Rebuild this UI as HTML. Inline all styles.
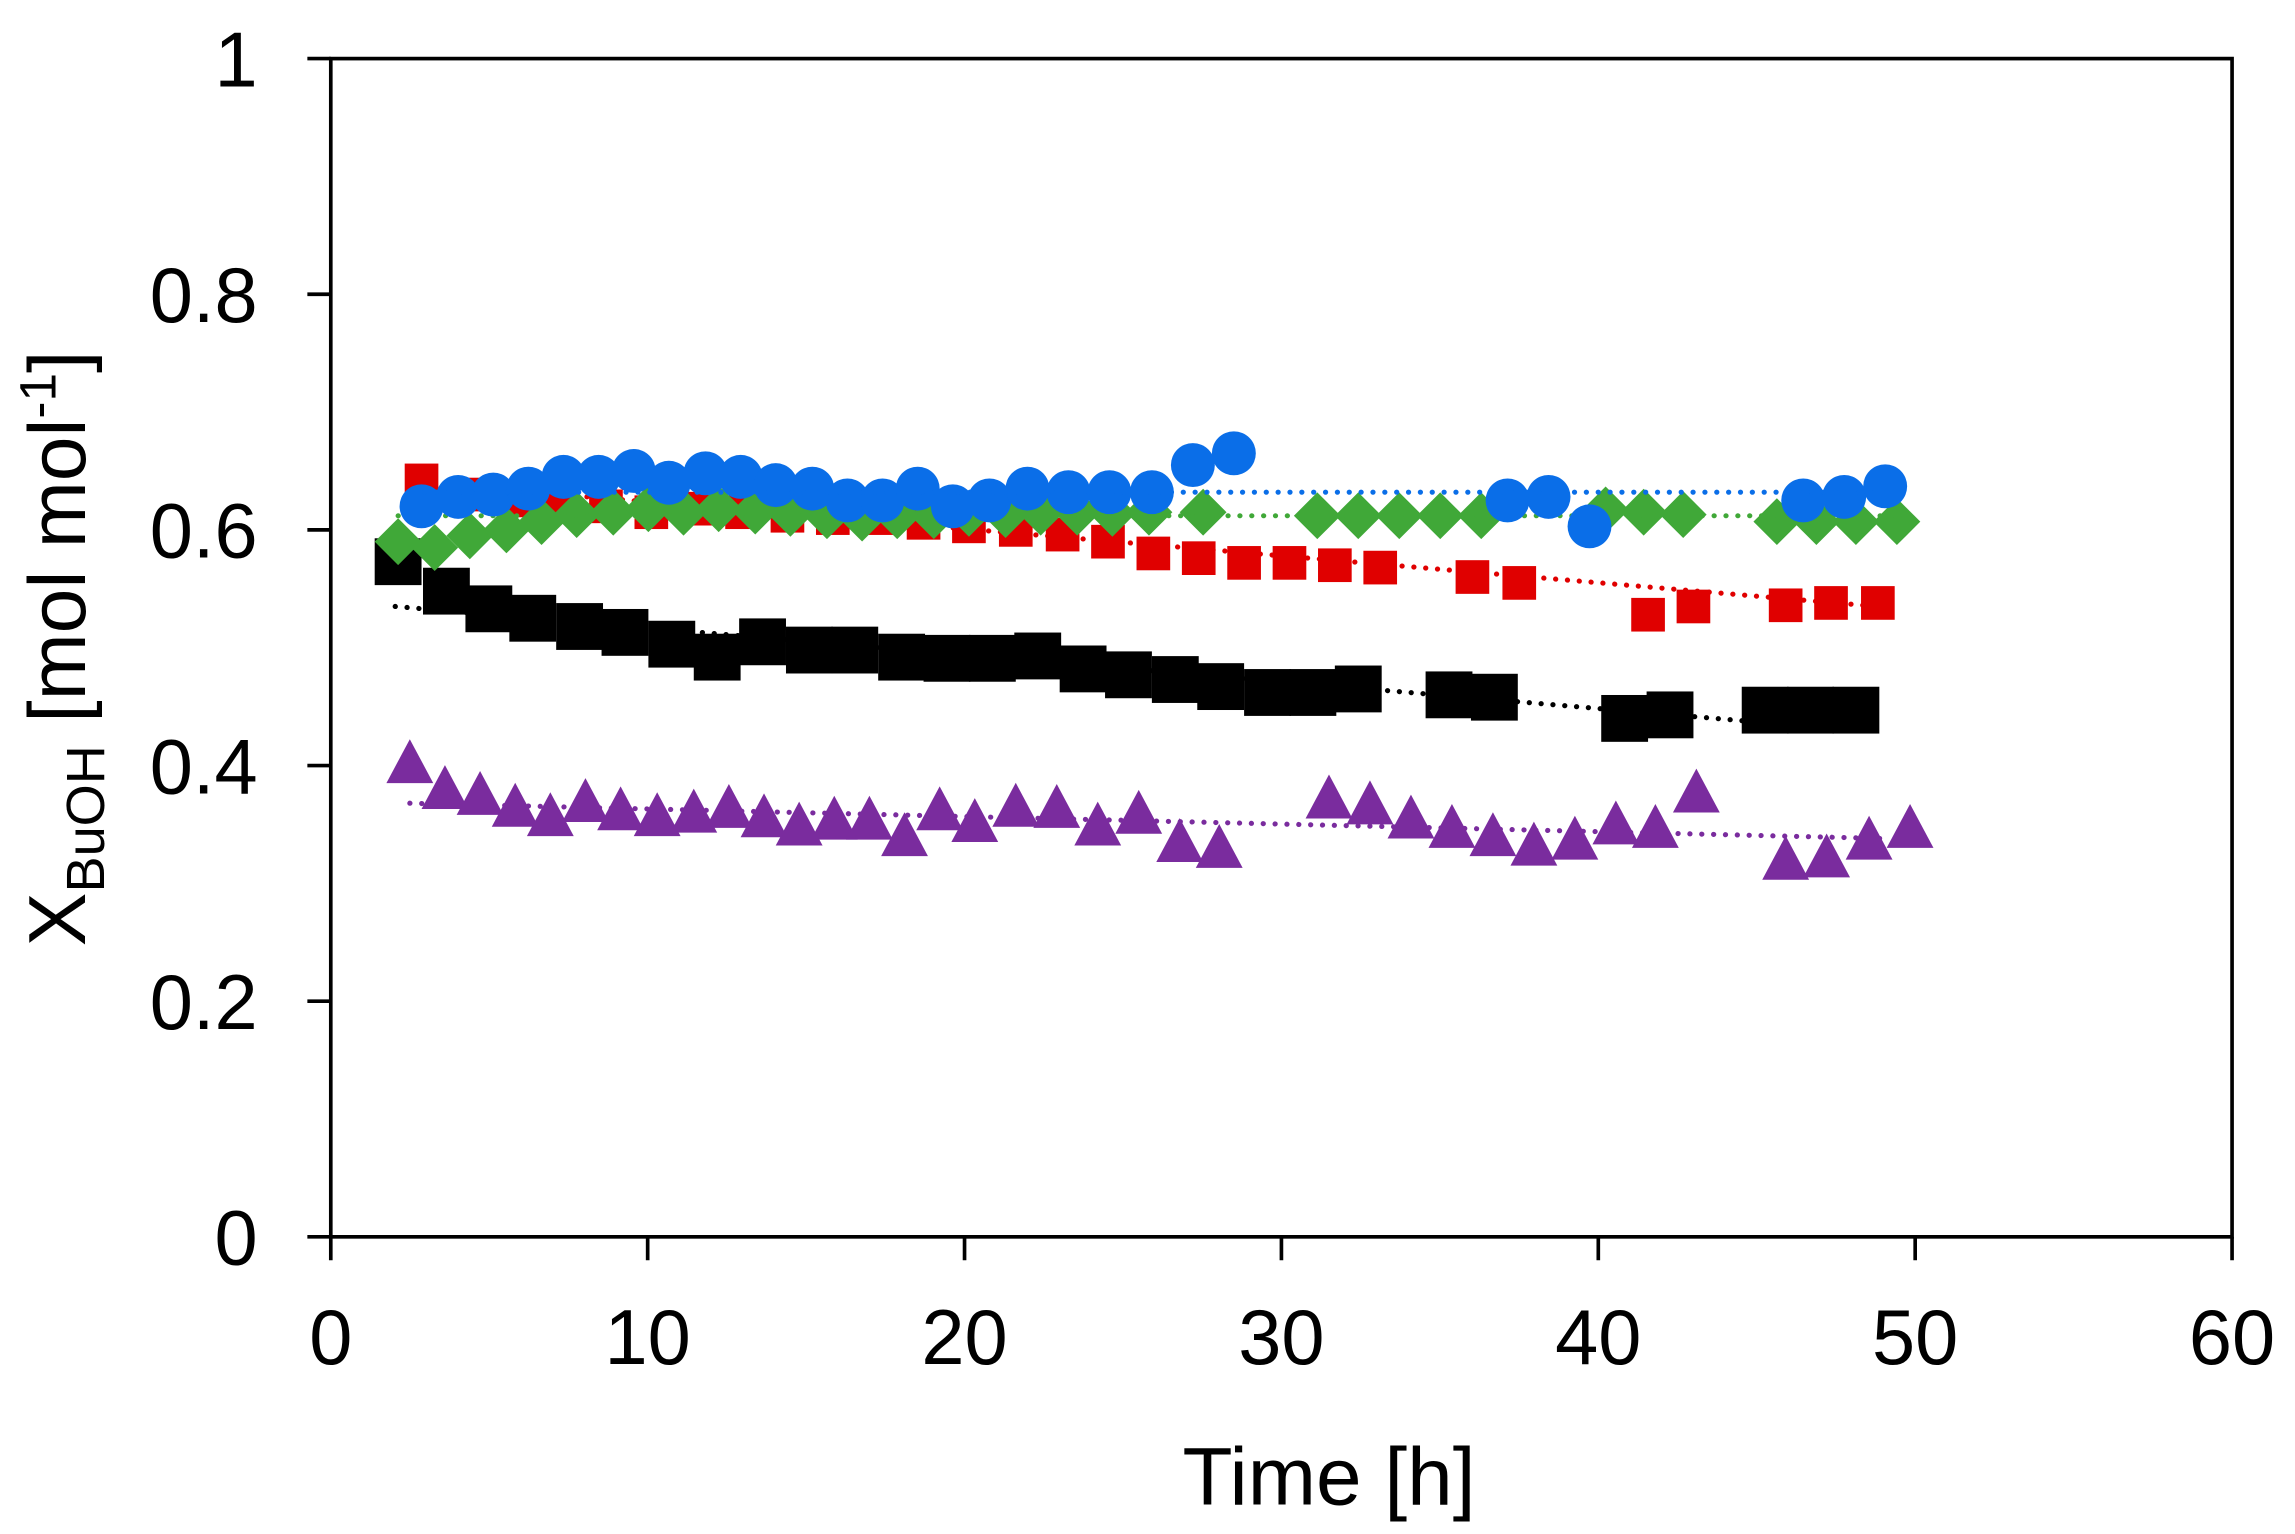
<!DOCTYPE html>
<html><head><meta charset="utf-8"><style>
html,body{margin:0;padding:0;background:#fff;}
svg{display:block;}
text{font-family:"Liberation Sans",Arial,sans-serif;fill:#000;}
</style></head><body>
<svg id="s" width="2295" height="1534" viewBox="0 0 1568 1048" xmlns="http://www.w3.org/2000/svg">
<rect x="0" y="0" width="1568" height="1048" fill="#fff"/>
<rect x="226" y="40" width="1299" height="805" fill="none" stroke="#000" stroke-width="2.5"/>
<g id="ticks" stroke="#000" stroke-width="2.5"></g>
<g id="labels" font-size="53"></g>
<g id="data"></g>
<text x="908" y="1028" font-size="56" text-anchor="middle">Time [h]</text>
<text transform="translate(58,443) rotate(-90)" font-size="55" text-anchor="middle">X<tspan font-size="37" dy="13">BuOH</tspan><tspan dy="-13"> [mol mol</tspan><tspan font-size="35" dy="-20">-1</tspan><tspan dy="20">]</tspan></text>
</svg>
<script>
var NS="http://www.w3.org/2000/svg";
function el(t,a,p){var e=document.createElementNS(NS,t);for(var k in a)e.setAttribute(k,a[k]);p.appendChild(e);return e;}
var T=document.getElementById('ticks'),L=document.getElementById('labels'),D=document.getElementById('data');
function Y(v){return 845-805*v;}
for(var i=0;i<=5;i++){var v=i*0.2,y=Y(v);el('line',{x1:210,y1:y,x2:226,y2:y},T);
var t=el('text',{x:176,y:y+19,'text-anchor':'end'},L);t.textContent=(i==0?'0':i==5?'1':v.toFixed(1));}
for(var i=0;i<=6;i++){var x=226+i*216.5;el('line',{x1:x,y1:845,x2:x,y2:861},T);
var t=el('text',{x:x,y:932,'text-anchor':'middle'},L);t.textContent=i*10;}
function line(x1,v1,x2,v2,c){el('line',{x1:x1,y1:Y(v1),x2:x2,y2:Y(v2),stroke:c,'stroke-width':3.5,'stroke-dasharray':'0.1 8','stroke-linecap':'round'},D);}
function sq(pts,s,c){pts.forEach(function(p){el('rect',{x:p[0]-s/2,y:Y(p[1])-s/2,width:s,height:s,fill:c},D);});}
function ci(pts,r,c){pts.forEach(function(p){el('circle',{cx:p[0],cy:Y(p[1]),r:r,fill:c},D);});}
function di(pts,r,c){pts.forEach(function(p){var x=p[0],y=Y(p[1]);el('polygon',{points:(x)+','+(y-r)+' '+(x+r)+','+y+' '+x+','+(y+r)+' '+(x-r)+','+y,fill:c},D);});}
function tr(pts,w,h,c){pts.forEach(function(p){var x=p[0],y=Y(p[1]);el('polygon',{points:x+','+(y-h*0.6)+' '+(x+w/2)+','+(y+h*0.4)+' '+(x-w/2)+','+(y+h*0.4),fill:c},D);});}
var purple=[[280,.4],[304,.378],[328,.373],[352,.363],[376,.355],[400,.367],[424,.36],[449,.355],[474,.358],[498,.362],[522,.354],[546,.347],[570,.352],[594,.352],[618,.338],[642,.36],[666,.35],[694,.363],[722,.362],[750,.347],[778,.357],[806,.333],[833,.328],[908,.37],[936,.365],[964,.353],[992,.345],[1020,.338],[1048,.33],[1076,.335],[1104,.348],[1131,.345],[1159,.375],[1220,.318],[1248,.32],[1277,.335],[1305,.345]];
var black=[[272,.573],[305,.548],[334,.533],[364,.525],[396,.518],[427,.513],[459,.503],[490,.492],[521,.505],[553,.498],[584,.498],[616,.492],[647,.491],[678,.491],[709,.493],[740,.482],[771,.477],[803,.473],[834,.467],[866,.462],[897,.462],[928,.465],[990,.46],[1021,.458],[1110,.44],[1141,.443],[1206,.447],[1237,.447],[1268,.447]];
var red=[[288,.642],[320,.63],[352,.625],[383,.622],[414,.62],[445,.615],[476,.618],[507,.615],[538,.612],[569,.61],[600,.61],[631,.606],[662,.603],[694,.6],[726,.596],[757,.59],[788,.58],[819,.576],[850,.572],[881,.572],[912,.57],[943,.568],[1006,.56],[1038,.555],[1126,.528],[1157,.535],[1220,.536],[1251,.538],[1283,.538]];
var green=[[272,.59],[297,.585],[321,.595],[346,.6],[370,.607],[394,.613],[419,.615],[443,.618],[467,.615],[491,.618],[516,.616],[540,.614],[565,.612],[589,.61],[613,.612],[638,.612],[662,.614],[687,.613],[711,.615],[736,.615],[760,.614],[785,.615],[822,.615],[900,.612],[928,.612],[956,.612],[984,.612],[1012,.612],[1097,.617],[1123,.615],[1150,.613],[1214,.607],[1241,.607],[1268,.607],[1296,.607]];
var blue=[[288,.62],[313,.628],[337,.63],[361,.635],[385,.645],[409,.645],[433,.65],[457,.64],[482,.648],[506,.645],[530,.638],[555,.635],[579,.625],[603,.625],[627,.635],[651,.62],[676,.625],[702,.635],[730,.632],[758,.632],[787,.632],[815,.655],[843,.665],[1030,.625],[1058,.628],[1086,.603],[1232,.625],[1260,.628],[1288,.637]];
line(280,.368,1290,.338,'#7a2c9e');
tr(purple,32,30,'#7a2c9e');
line(270,.535,1200,.437,'#000');
sq(black,32,'#000');
line(288,.64,1283,.535,'#e00000');
sq(red,23,'#e00000');
di(green,16,'#40a838');
line(272,.612,1296,.612,'#40a838');
ci(blue,15,'#0a6ee8');
line(290,.632,1288,.632,'#0a6ee8');
</script>
</body></html>
